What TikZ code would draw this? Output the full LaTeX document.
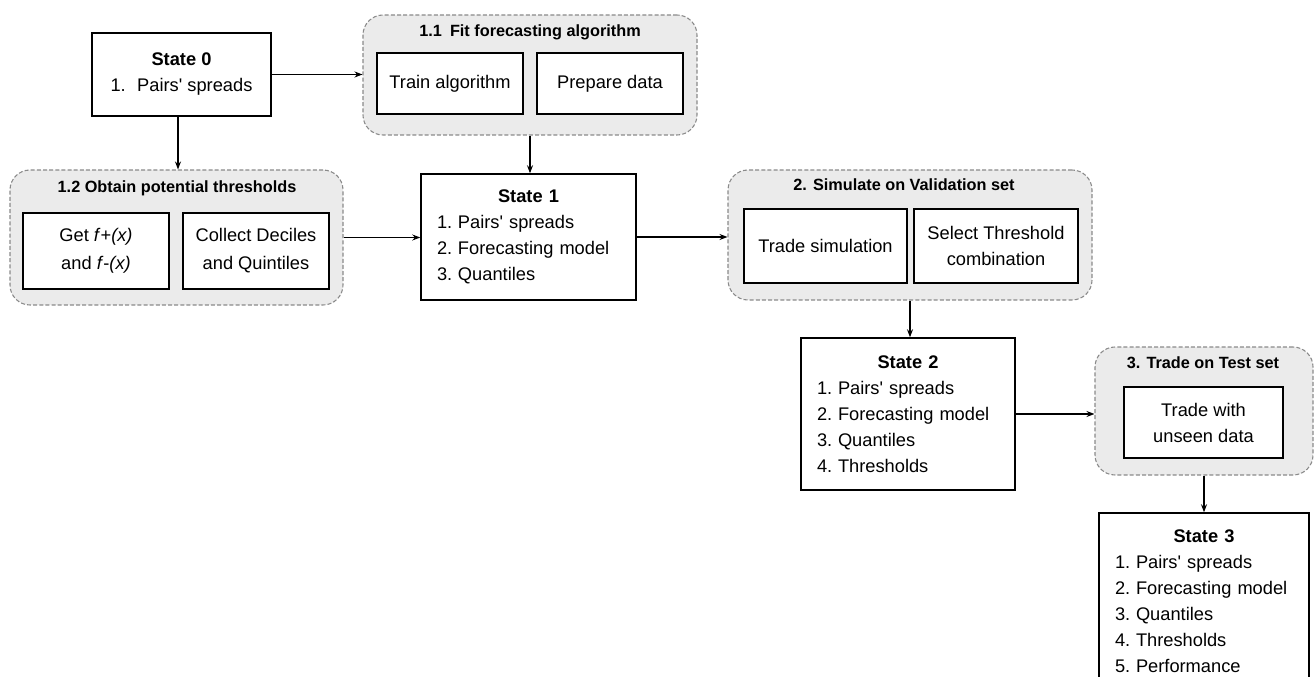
\documentclass[tikz,border=0pt]{standalone}
\usepackage{fontspec}
\setmainfont{Liberation Sans}
\usetikzlibrary{arrows.meta}
\definecolor{groupfill}{HTML}{EBEBEB}
\definecolor{groupline}{HTML}{8A8A8A}
% one numbered entry of a state list
\newcommand{\stateitem}[2]{\makebox[15.75pt][l]{#1}#2}
\newcommand{\spreads}{Pairs\textquotesingle{} spreads}
\begin{document}
\begin{tikzpicture}[x=0.75pt,y=-0.75pt,
  every node/.style={font=\fontsize{13.7}{19.5}\selectfont},
  group/.style={draw=groupline, dash pattern=on 3pt off 1.6pt, line width=0.8pt,
    fill=groupfill, rounded corners=15pt, inner sep=0pt},
  grouptitle/.style={font=\fontsize{12.2}{14}\selectfont\bfseries},
  task/.style={draw=black, line width=1.1pt, fill=white, align=center, inner sep=0pt},
  statebox/.style={draw=black, line width=1.1pt, fill=white, inner ysep=0pt,
    inner xsep=12pt, align=left},
  link/.style={-{Stealth[length=6pt,width=4.5pt]}, line width=0.8pt}
]
\useasboundingbox (0,0) rectangle (1316,677);
\clip (0,0) rectangle (1316,677);

% ---------- group backgrounds ----------
\node[group, minimum width=250.5pt, minimum height=90pt] (g11) at (530,75) {};
\node[grouptitle] (g11t) at (530,32) {1.1\enspace Fit forecasting algorithm};

\node[group, minimum width=249.75pt, minimum height=101.25pt] (g12) at (176.5,237.5) {};
\node[grouptitle] (g12t) at (177,188) {1.2 Obtain potential thresholds};

\node[group, minimum width=273pt, minimum height=97.5pt] (g2) at (910,235) {};
\node[grouptitle] (g2t) at (904,185) {2. Simulate on Validation set};

\node[group, minimum width=163.5pt, minimum height=96pt] (g3) at (1204,411) {};
\node[grouptitle] (g3t) at (1203,363) {3. Trade on Test set};

% ---------- tasks inside the groups ----------
\node[task, minimum width=109.5pt, minimum height=45.75pt] (train) at (450,83.5) {Train algorithm};
\node[task, minimum width=109.5pt, minimum height=45.75pt] (prep) at (610,83.5) {Prepare data};

\node[task, minimum width=109.5pt, minimum height=57pt,
  font=\fontsize{13.7}{21}\selectfont] (getf) at (96,251)
  {Get \textit{f}+\textit{(x)}\\and \textit{f}-\textit{(x)}};
\node[task, minimum width=109.5pt, minimum height=57pt,
  font=\fontsize{13.7}{21}\selectfont] (collect) at (256,251)
  {Collect Deciles\\and Quintiles};

\node[task, minimum width=122.25pt, minimum height=55.5pt] (tsim) at (825.5,246) {Trade simulation};
\node[task, minimum width=123pt, minimum height=55.5pt] (select) at (996,246) {Select Threshold\\combination};

\node[task, minimum width=119.25pt, minimum height=53.25pt] (unseen) at (1203.5,422.5) {Trade with\\unseen data};

% ---------- states ----------
\node[statebox, align=center, minimum width=134.25pt, minimum height=62.25pt] (s0) at (181.5,74.5)
  {{\bfseries State 0}\\\makebox[20pt][l]{1.}\spreads};

\node[statebox, text width=137.25pt, minimum height=94.5pt] (s1) at (528.5,237)
  {{\centering\bfseries State 1\par}
   \stateitem{1.}{\spreads}\\
   \stateitem{2.}{Forecasting model}\\
   \stateitem{3.}{Quantiles}};

\node[statebox, text width=136.5pt, minimum height=114pt] (s2) at (908,414)
  {{\centering\bfseries State 2\par}
   \stateitem{1.}{\spreads}\\
   \stateitem{2.}{Forecasting model}\\
   \stateitem{3.}{Quantiles}\\
   \stateitem{4.}{Thresholds}};

\node[statebox, text width=133.5pt, minimum height=132.75pt] (s3) at (1204,601.5)
  {{\centering\bfseries State 3\par}
   \stateitem{1.}{\spreads}\\
   \stateitem{2.}{Forecasting model}\\
   \stateitem{3.}{Quantiles}\\
   \stateitem{4.}{Thresholds}\\
   \stateitem{5.}{Performance}};

% ---------- connectors ----------
\draw[link] (s0.east) -- (s0.east -| g11.west);
\draw[link] (s0.south -| g12.north) ++(1.5,0) coordinate (s0b) -- (s0b |- g12.north);
\draw[link] (g11.south) -- (g11.south |- s1.north);
\draw[link] (g12.east) -- (g12.east -| s1.west);
\draw[link] (s1.east) -- (s1.east -| g2.west);
\draw[link] (g2.south) -- (g2.south |- s2.north);
\draw[link] (s2.east) -- (s2.east -| g3.west);
\draw[link] (g3.south) -- (g3.south |- s3.north);
\end{tikzpicture}
\end{document}
